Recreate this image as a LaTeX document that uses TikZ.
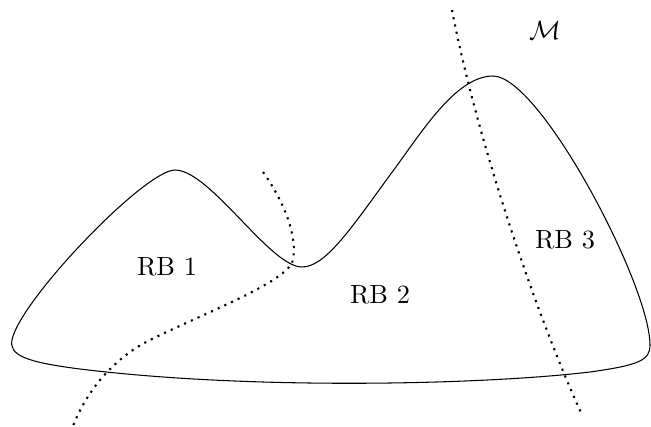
\documentclass[tikz,border=0pt]{standalone}
\begin{document}
\begin{tikzpicture}[x=0.38pt,y=-0.38pt,
  region/.style={draw=black,line width=0.4pt},
  cut/.style={draw=black,dotted,thick},
  lbl/.style={inner sep=0pt,font=\normalsize}]
\useasboundingbox (0,0) rectangle (651,426);
% manifold outline
\draw[region] (12,340) .. controls (9,355) and (25,362) .. (80,369)
  .. controls (250,390) and (480,385) .. (590,372)
  .. controls (640,365) and (650,360) .. (650,345)
  .. controls (650,285) and (540,76) .. (493,76)
  .. controls (455,76) and (420,135) .. (390,175)
  .. controls (350,230) and (325,267) .. (302,267)
  .. controls (270,267) and (210,170) .. (175,170)
  .. controls (145,170) and (20,300) .. (12,340) -- cycle;
% boundaries
\draw[cut] (263,172) .. controls (290,210) and (298,245) .. (292,263)
  .. controls (280,285) and (200,315) .. (150,340)
  .. controls (110,360) and (85,395) .. (73,426);
\draw[cut] (452,10) .. controls (475,130) and (530,300) .. (582,415);
% labels
\node[lbl] (rb1) at (167,267) {RB 1};
\node[lbl] (rb2) at (380,295) {RB 2};
\node[lbl] (rb3) at (565,240) {RB 3};
\node[lbl] (m) at (545,30) {$\mathcal{M}$};
\end{tikzpicture}
\end{document}
